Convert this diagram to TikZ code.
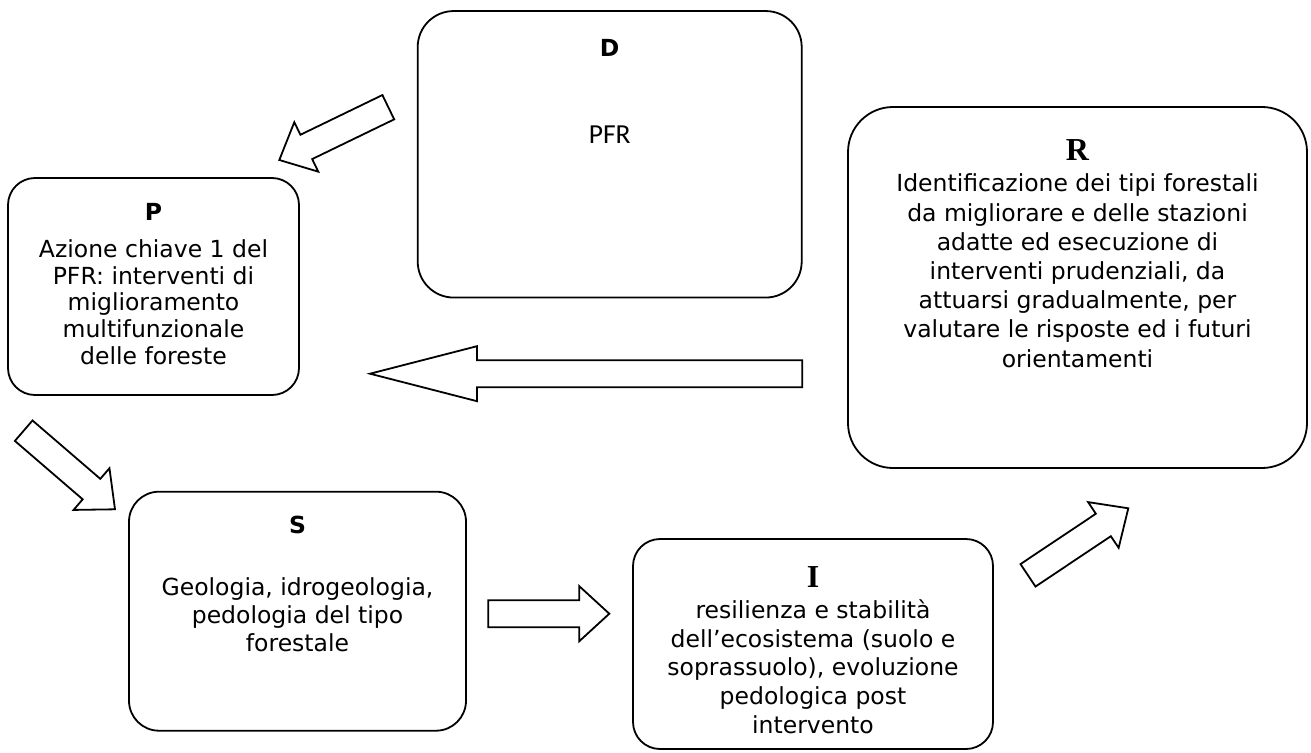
\documentclass[tikz,border=0pt]{standalone}
\usepackage{fontspec}
\setmainfont{DejaVu Sans}
\newfontfamily\headserif{Liberation Serif}
\newfontfamily\pfrfont{Carlito}
\usetikzlibrary{calc}

% block arrow: #1 tail centre, #2 tip, #3 head length, #4 name of the head base
\newcommand\blockarrow[4]{%
  \coordinate (#4) at ($(#2)!#3!(#1)$);
  \draw[blockarrow] ($(#1)!13.5pt!90:(#2)$) -- ($(#4)!13.5pt!-90:(#1)$)
    -- ($(#4)!27.5pt!-90:(#1)$) -- (#2) -- ($(#4)!27.5pt!90:(#1)$)
    -- ($(#4)!13.5pt!90:(#1)$) -- ($(#1)!13.5pt!-90:(#2)$) -- cycle;
}

\begin{document}
\begin{tikzpicture}[x=1pt,y=-1pt,
  card/.style={draw, line width=1.8pt, rounded corners=#1, inner sep=0pt, fill=white},
  blockarrow/.style={draw, line width=1.8pt, line join=miter, fill=white},
  sanshead/.style={inner sep=0pt, anchor=base, font=\fontsize{23.5}{27}\selectfont\bfseries},
  serifhead/.style={inner sep=0pt, anchor=base, font=\fontsize{32}{36}\selectfont\headserif\bfseries},
  body/.style={inner sep=0pt, anchor=north, align=center, font=\fontsize{23.5}{#1}\selectfont},
]
\useasboundingbox (0,0) rectangle (1311,752);

% boxes
\node[card=36pt, minimum width=384pt, minimum height=286.5pt] (D) at (609.7,154.3) {};
\node[card=27pt, minimum width=291pt, minimum height=217pt] (P) at (153.5,286.5) {};
\node[card=45pt, minimum width=459pt, minimum height=361pt] (R) at (1077.5,287.5) {};
\node[card=30pt, minimum width=337pt, minimum height=239pt] (S) at (297.5,611.2) {};
\node[card=27pt, minimum width=360pt, minimum height=210pt] (I) at (813,644) {};

% D
\node[sanshead] (Dh) at (609.7,56.7) {D};
\node[inner sep=0pt, anchor=base, font=\fontsize{27.5}{31}\selectfont\pfrfont] (Dt) at (609.7,143.3) {PFR};

% P
\node[sanshead] (Ph) at (153.5,220) {P};
\node[body=26.7] (Pt) at (153.5,237.3) {\rule{0pt}{20pt}Azione chiave 1 del\\PFR: interventi di\\miglioramento\\multifunzionale\\delle foreste};

% R
\node[serifhead] (Rh) at (1077.5,160) {R};
\node[body=29.2] (Rt) at (1077.5,171.7) {\rule{0pt}{20pt}Identificazione dei tipi forestali\\da migliorare e delle stazioni\\adatte ed esecuzione di\\interventi prudenziali, da\\attuarsi gradualmente, per\\valutare le risposte ed i futuri\\orientamenti};

% S
\node[sanshead] (Sh) at (297.5,533) {S};
\node[body=28.3] (St) at (297.5,575) {\rule{0pt}{20pt}Geologia, idrogeologia,\\pedologia del tipo\\forestale};

% I
\node[serifhead] (Ih) at (813,587) {I};
\node[body=28.7] (It) at (813,598.3) {\rule{0pt}{20pt}resilienza e stabilità\\dell’ecosistema (suolo e\\soprassuolo), evoluzione\\pedologica post\\intervento};

% arrows between the boxes
\coordinate (dp-tail) at (388.3,107.2);  \coordinate (dp-tip) at (279.3,160);
\coordinate (ps-tail) at (23.7,430.7);   \coordinate (ps-tip) at (115,509.3);
\coordinate (rp-tail) at (802.3,373.7);  \coordinate (rp-tip) at (370,373.7);
\coordinate (si-tail) at (488.3,613.7);  \coordinate (si-tip) at (609.3,613.7);
\coordinate (ir-tail) at (1028,575.3);   \coordinate (ir-tip) at (1128.3,508.3);

\blockarrow{dp-tail}{dp-tip}{30pt}{dp-neck}
\blockarrow{ps-tail}{ps-tip}{31pt}{ps-neck}
\blockarrow{rp-tail}{rp-tip}{107pt}{rp-neck}
\blockarrow{si-tail}{si-tip}{30pt}{si-neck}
\blockarrow{ir-tail}{ir-tip}{30pt}{ir-neck}
\end{tikzpicture}
\end{document}
